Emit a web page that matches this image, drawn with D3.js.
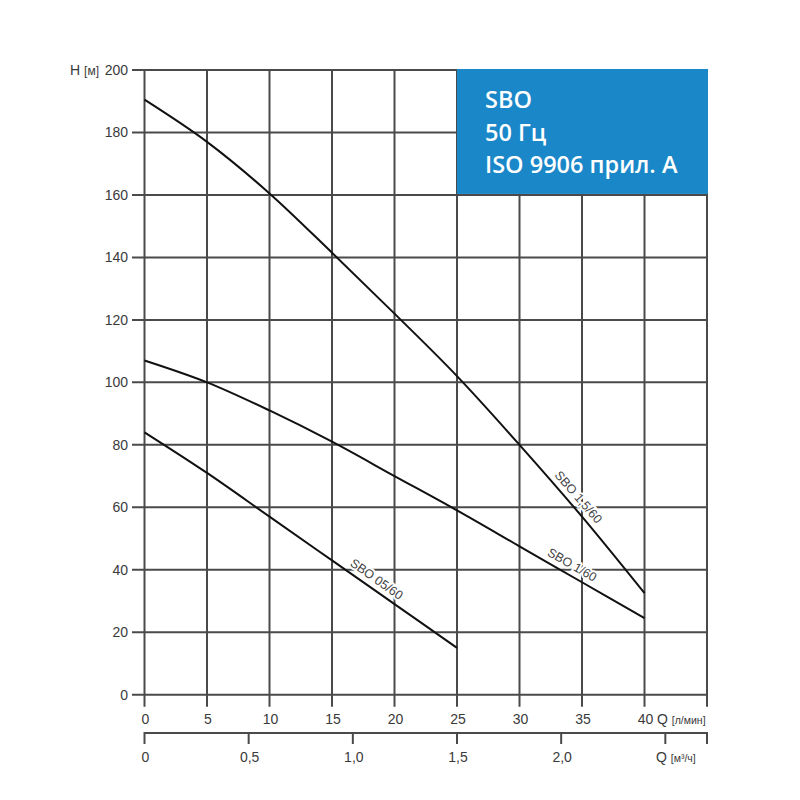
<!DOCTYPE html>
<html><head><meta charset="utf-8">
<script src="https://cdn.jsdelivr.net/npm/d3@7/dist/d3.min.js"></script>
<style>body{margin:0;background:#fff}</style>
</head><body>
<script>
// Data (Q in l/min, H in m)
const qLpm = [0, 5, 10, 15, 20, 25, 30, 35, 40];
const h15_60 = [190.5, 177, 160.5, 141.5, 122, 102, 80, 57, 32.5];
const h1_60 = [107, 100, 91, 81, 70, 59, 47.5, 36, 24.5];
const q05 = [0, 5, 10, 15, 20, 25];
const h05_60 = [84, 71, 57, 43, 29, 15];
const seriesNames = ["SBO 1,5/60", "SBO 1/60", "SBO 05/60"];
const yTicks = [0, 20, 40, 60, 80, 100, 120, 140, 160, 180, 200];
const xTicks = [0, 5, 10, 15, 20, 25, 30, 35, 40, 45];
const xLabels = ["0", "5", "10", "15", "20", "25", "30", "35", "40", ""];
const m3Ticks = [0, 0.5, 1.0, 1.5, 2.0, 2.5, 2.7];
const m3Labels = ["0", "0,5", "1,0", "1,5", "2,0", "", ""];
const titleLines = ["SBO", "50 Гц", "ISO 9906 прил. A"];

const W = 800, H = 800;
const svg = d3.select("body").append("svg").attr("width", W).attr("height", H);
const x = d3.scaleLinear().domain([0, 45]).range([144.5, 707]);
const y = d3.scaleLinear().domain([0, 200]).range([694.7, 70]);
const xm3 = d3.scaleLinear().domain([0, 2.7]).range([144.5, 707]);
const gridColor = "#4a4a4a";
const font = "'Liberation Sans', Arial, sans-serif";
const txtColor = "#3a3a3a";

// grid: horizontal
svg.append("g").selectAll("line").data(yTicks).join("line")
  .attr("x1", 132).attr("x2", x(45))
  .attr("y1", d => y(d)).attr("y2", d => y(d))
  .attr("stroke", gridColor).attr("stroke-width", 2);
// grid: vertical
svg.append("g").selectAll("line").data(xTicks).join("line")
  .attr("x1", d => x(d)).attr("x2", d => x(d))
  .attr("y1", y(200)).attr("y2", y(0) + 12)
  .attr("stroke", gridColor).attr("stroke-width", 2);

// y labels
svg.append("g").selectAll("text").data(yTicks).join("text")
  .attr("x", 128).attr("y", d => y(d) + 5)
  .attr("text-anchor", "end").attr("font-family", font).attr("font-size", 14)
  .attr("fill", txtColor).text(d => d);
const hl = svg.append("text").attr("x", 99).attr("y", y(200) + 5).attr("text-anchor", "end")
  .attr("font-family", font).attr("font-size", 14).attr("fill", txtColor);
hl.append("tspan").text("H ");
hl.append("tspan").attr("font-size", 12).text("[м]");

// x labels (l/min)
svg.append("g").selectAll("text").data(xTicks).join("text")
  .attr("x", d => x(d) + 1).attr("y", 724)
  .attr("text-anchor", "middle").attr("font-family", font).attr("font-size", 14)
  .attr("fill", txtColor).text((d, i) => xLabels[i]);
const ql = svg.append("text").attr("x", 657).attr("y", 724)
  .attr("font-family", font).attr("font-size", 14).attr("fill", txtColor);
ql.append("tspan").text("Q ");
ql.append("tspan").attr("font-size", 10.5).text("[л/мин]");

// second axis m3/h
svg.append("line").attr("x1", xm3(0)).attr("x2", xm3(2.7)).attr("y1", 733).attr("y2", 733)
  .attr("stroke", gridColor).attr("stroke-width", 2);
svg.append("g").selectAll("line").data(m3Ticks).join("line")
  .attr("x1", d => xm3(d)).attr("x2", d => xm3(d)).attr("y1", 732).attr("y2", 744)
  .attr("stroke", gridColor).attr("stroke-width", 2);
svg.append("g").selectAll("text").data(m3Ticks).join("text")
  .attr("x", d => xm3(d) + 1).attr("y", 762)
  .attr("text-anchor", "middle").attr("font-family", font).attr("font-size", 14)
  .attr("fill", txtColor).text((d, i) => m3Labels[i]);
const qm = svg.append("text").attr("x", 656).attr("y", 762)
  .attr("font-family", font).attr("font-size", 14).attr("fill", txtColor);
qm.append("tspan").text("Q ");
qm.append("tspan").attr("font-size", 10.5).text("[м³/ч]");

// blue box
svg.append("rect").attr("x", x(25)).attr("y", 69).attr("width", x(45) - x(25) + 1)
  .attr("height", y(160) - 69 - 1).attr("fill", "#1a87c9");
svg.append("g").selectAll("text").data(titleLines).join("text")
  .attr("x", 485).attr("y", (d, i) => 108 + i * 32.5)
  .attr("font-family", "'Open Sans', sans-serif").attr("font-weight", 600)
  .attr("font-size", 23.5).attr("fill", "#fff").text(d => d);

// curves
const curves = [
  d3.zip(qLpm, h15_60),
  d3.zip(qLpm, h1_60),
  d3.zip(q05, h05_60)
];
const interp = (pts, q) => {
  for (let i = 1; i < pts.length; i++) {
    if (q <= pts[i][0]) {
      const t = (q - pts[i-1][0]) / (pts[i][0] - pts[i-1][0]);
      return pts[i-1][1] + t * (pts[i][1] - pts[i-1][1]);
    }
  }
  return pts[pts.length - 1][1];
};

// curve labels with white halo, sitting just above each curve
const labels = [
  {t: seriesNames[0], c: 0, q: 34.1},
  {t: seriesNames[1], c: 1, q: 33.8},
  {t: seriesNames[2], c: 2, q: 18.1}
];
labels.forEach(d => {
  const pts = curves[d.c];
  const px = x(d.q), py = y(interp(pts, d.q));
  const dx = x(d.q + 1) - x(d.q - 1);
  const dy = y(interp(pts, d.q + 1)) - y(interp(pts, d.q - 1));
  d.px = px; d.py = py; d.a = Math.atan2(dy, dx) * 180 / Math.PI;
});
svg.append("g").selectAll("text").data(labels).join("text")
  .attr("transform", d => `translate(${d.px},${d.py}) rotate(${d.a})`)
  .attr("text-anchor", "middle").attr("y", -6)
  .attr("font-family", font).attr("font-size", 12.5).attr("fill", "#444")
  .attr("stroke", "#fff").attr("stroke-width", 4).attr("paint-order", "stroke")
  .text(d => d.t);

const line = d3.line().curve(d3.curveCatmullRom.alpha(0.5)).x(d => x(d[0])).y(d => y(d[1]));
svg.append("g").selectAll("path").data(curves).join("path")
  .attr("d", line).attr("fill", "none").attr("stroke", "#111").attr("stroke-width", 2);
</script>
</body></html>
